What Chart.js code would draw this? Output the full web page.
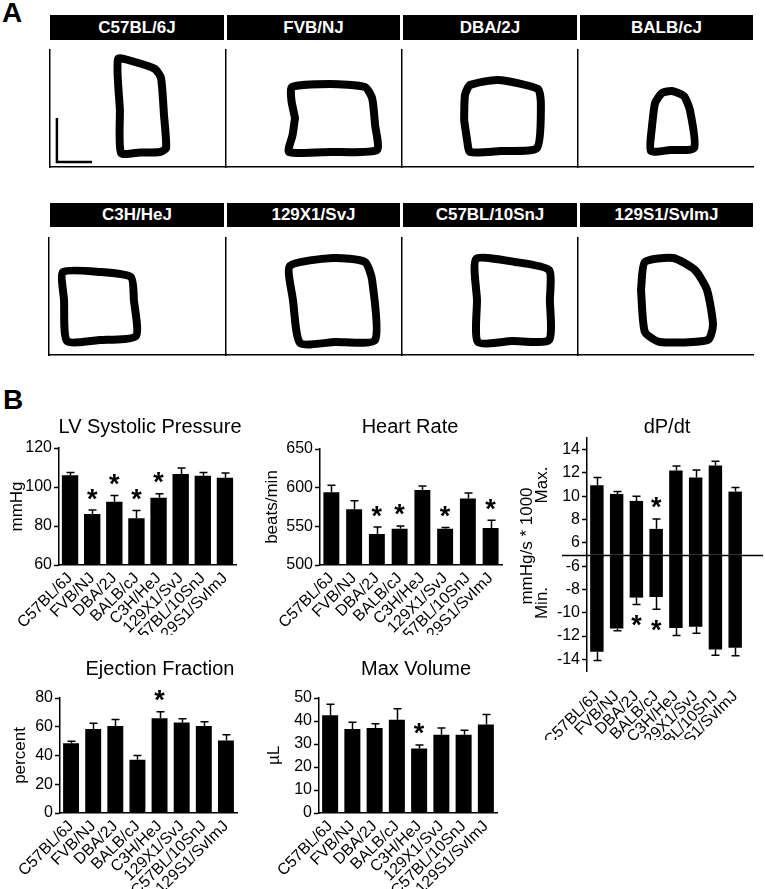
<!DOCTYPE html>
<html><head><meta charset="utf-8">
<script src="https://cdn.jsdelivr.net/npm/chart.js@4.4.0/dist/chart.umd.min.js"></script>
<style>
html,body{margin:0;padding:0;background:#fff;}
body{width:765px;height:889px;position:relative;overflow:hidden;font-family:'Liberation Sans',Arial,sans-serif;}
.hdr{position:absolute;background:#000;color:#fff;font-weight:bold;font-size:17px;display:flex;align-items:center;justify-content:center;white-space:nowrap;}
.plab{position:absolute;font-weight:bold;font-size:28px;line-height:28px;}
canvas{position:absolute;}
</style></head><body>
<div class="plab" style="left:2px;top:-1px">A</div>
<div class="plab" style="left:3px;top:386px">B</div>
<div id="root"></div>
<script>
// ---------------- DATA ----------------
const strains = ['C57BL/6J','FVB/NJ','DBA/2J','BALB/cJ','C3H/HeJ','129X1/SvJ','C57BL/10SnJ','129S1/SvImJ'];

// Panel A: representative PV loops, points as [volume (µL), pressure (mmHg)]
const pvC57BL6J    = [[23.3,57],[22.7,108],[28.3,105],[35,98],[37,89],[38,52],[38.7,19],[36.7,15],[30,14.5],[23.7,14],[23.3,57]];
const pvFVBNJ      = [[23,49],[21.8,67],[22,80],[34.7,83],[46.3,80],[48.7,69],[49.7,42],[50.3,17],[34.7,15],[21,15],[22.2,32],[23,49]];
const pvDBA2J      = [[20.7,47],[21,72],[22.7,82],[32,87],[45.3,78],[46.3,62],[45,19],[32.7,16],[22.7,15],[21.7,27],[20.7,47]];
const pvBALBcJ     = [[24.7,42],[25.7,64],[28,74],[31.3,76],[35.3,71],[37.3,57],[38.7,19],[30.7,17],[24.3,16],[24.7,42]];
const pvC3HHeJ     = [[5,55],[4.7,83],[17,83],[27.3,78],[28.3,55],[29,19],[17,15],[6,14],[5,55]];
const pv129X1SvJ   = [[22.3,55],[21.3,89],[35.7,97],[46.3,93],[48.7,75],[49.7,15],[36.3,13],[24.7,12],[22.3,55]];
const pvC57BL10SnJ = [[25,55],[24.7,96],[37.7,93],[49,85],[49.3,55],[49,15],[36.7,14],[25.3,13],[25,55]];
const pv129S1SvImJ = [[21,65],[22.3,93],[31.7,97],[39,85],[43,65],[45,30],[43.3,15],[27.3,13],[22.3,23],[21,65]];
const scaleBar     = [[2.3,49],[2.3,5],[14,5]];

// Panel B
const lvsp      = [106, 86.2, 92.5, 84, 94.5, 106.7, 105.8, 104.8];
const lvspErr   = [1.5, 2, 3.2, 4, 2, 3, 1.6, 2.4];
const lvspStar  = [0,1,1,1,1,0,0,0];
const lvspTicks = [60, 80, 100, 120];

const hr      = [594, 572, 540, 547, 597, 547, 586, 548];
const hrErr   = [9, 11, 9, 3.5, 5, 1.5, 7, 10];
const hrStar  = [0,0,1,1,0,1,0,1];
const hrTicks = [500, 550, 600, 650];

const dpdtMax      = [10.95, 10.2, 9.6, 7.2, 12.2, 11.6, 12.65, 10.4];
const dpdtMaxErr   = [0.65, 0.2, 0.4, 0.85, 0.4, 0.65, 0.35, 0.35];
const dpdtMaxStar  = [0,0,0,1,0,0,0,0];
const dpdtMin      = [-13.35, -11.35, -8.7, -8.65, -11.3, -11.2, -13.15, -13.0];
const dpdtMinErr   = [0.75, 0.2, 0.6, 1.05, 0.65, 0.55, 0.5, 0.7];
const dpdtMinStar  = [0,0,1,1,0,0,0,0];
const dpdtTicks    = [-14, -12, -10, -8, -6, 6, 8, 10, 12, 14];
const dpdtBreak    = 5;   // axis is broken between -5 and 5

const ef      = [48.5, 58.5, 60.5, 37, 66, 63, 60.5, 50.5];
const efErr   = [1.5, 4, 4.5, 3, 4.5, 2.5, 3, 4];
const efStar  = [0,0,0,0,1,0,0,0];
const efTicks = [0, 20, 40, 60, 80];

const mv      = [42.5, 36.5, 37, 40.5, 28, 34, 34, 38.5];
const mvErr   = [4.8, 3, 1.8, 4.8, 1.6, 3, 2, 4.3];
const mvStar  = [0,0,0,0,1,0,0,0];
const mvTicks = [0, 10, 20, 30, 40, 50];

// ---------------- RENDER ----------------
const FONT = "'Liberation Sans', Arial, sans-serif";
Chart.defaults.font.family = FONT;
Chart.defaults.color = '#000';
const root = document.getElementById('root');

function addCanvas(id, left, top, w, h) {
  const c = document.createElement('canvas');
  c.id = id; c.width = w; c.height = h;
  c.style.left = left + 'px'; c.style.top = top + 'px';
  c.style.width = w + 'px'; c.style.height = h + 'px';
  root.appendChild(c);
  return c;
}
function addHeader(text, left, top, w, h) {
  const d = document.createElement('div');
  d.className = 'hdr'; d.textContent = text;
  d.style.left = left + 'px'; d.style.top = top + 'px';
  d.style.width = w + 'px'; d.style.height = h + 'px';
  root.appendChild(d);
}

// ---- Panel A ----
const loops = [pvC57BL6J, pvFVBNJ, pvDBA2J, pvBALBcJ, pvC3HHeJ, pv129X1SvJ, pvC57BL10SnJ, pv129S1SvImJ];
const rowLayout = [
  {hdrTop: 15, hdrH: 25, plotTop: 49, lefts: [50, 226, 402, 578]},
  {hdrTop: 203, hdrH: 24, plotTop: 237, lefts: [49, 226, 402, 578]}
];
const hdrX = [50, 227, 403, 580], hdrW = [174, 173, 174, 173];
const toPts = a => a.map(p => ({x: p[0], y: p[1]}));

loops.forEach((loop, i) => {
  const row = rowLayout[Math.floor(i / 4)], col = i % 4;
  addHeader(strains[i], hdrX[col], row.hdrTop, hdrW[col], row.hdrH);
  const L = row.lefts[col];
  const c = addCanvas('pv' + i, L - 2, row.plotTop, 178, 120);
  const ds = [{data: toPts(loop), showLine: true, borderColor: '#000', borderWidth: 8, pointRadius: 0,
               tension: 0.2, borderJoinStyle: 'round', borderCapStyle: 'round', fill: false}];
  if (i === 0) ds.push({data: toPts(scaleBar), showLine: true, borderColor: '#000', borderWidth: 2.5,
                        pointRadius: 0, tension: 0, fill: false});
  new Chart(c, {
    type: 'scatter',
    data: {datasets: ds},
    options: {
      responsive: false, animation: false, events: [],
      layout: {padding: {left: 2, top: 0, right: 0, bottom: 2}},
      plugins: {legend: {display: false}, tooltip: {enabled: false}},
      scales: {
        x: {type: 'linear', min: 0, max: 58.67, ticks: {display: false},
            grid: {display: true, drawOnChartArea: false, drawTicks: false},
            border: {display: true, color: '#000', width: 1.5}, afterFit: s => { s.height = 0; }},
        y: {type: 'linear', min: 0, max: 118, ticks: {display: false},
            grid: {display: true, drawOnChartArea: false, drawTicks: false},
            border: {display: true, color: '#000', width: 1.5}, afterFit: s => { s.width = 0; }}
      }
    }
  });
});

// ---- Panel B ----
const decor = {
  id: 'decor',
  afterDatasetsDraw(chart, args, opts) {
    const ctx = chart.ctx, ys = chart.scales.y;
    ctx.save();
    if (opts.zeroLine) {
      const y0 = Math.round(ys.getPixelForValue(0)) + 0.5;
      ctx.strokeStyle = '#000'; ctx.lineWidth = 1.5;
      ctx.beginPath(); ctx.moveTo(opts.zeroLine.x1, y0); ctx.lineTo(opts.zeroLine.x2, y0); ctx.stroke();
    }
    chart.data.datasets.forEach((ds, di) => {
      if (!ds.errors) return;
      const meta = chart.getDatasetMeta(di);
      meta.data.forEach((bar, i) => {
        const v = ds.data[i], dir = v >= 0 ? 1 : -1;
        const yEnd = ys.getPixelForValue(v + dir * ds.errors[i]);
        const x = Math.round(bar.x) + 0.5;
        ctx.strokeStyle = '#000'; ctx.lineWidth = 1.5;
        ctx.beginPath();
        ctx.moveTo(x, bar.y); ctx.lineTo(x, yEnd);
        ctx.moveTo(x - 4, yEnd); ctx.lineTo(x + 4, yEnd);
        ctx.stroke();
        if (ds.stars && ds.stars[i]) {
          ctx.font = 'bold 27px ' + FONT;
          ctx.textAlign = 'center'; ctx.textBaseline = 'alphabetic'; ctx.fillStyle = '#000';
          const m = ctx.measureText('*');
          const cy = yEnd - dir * 16;
          const base = cy + (m.actualBoundingBoxAscent - m.actualBoundingBoxDescent) / 2;
          ctx.fillText('*', bar.x, base);
        }
      });
    });
    if (opts.title) {
      ctx.font = '20px ' + FONT; ctx.fillStyle = '#000';
      ctx.textAlign = 'center'; ctx.textBaseline = 'middle';
      ctx.fillText(opts.title.text, opts.title.x, opts.title.y);
    }
    (opts.texts || []).forEach(t => {
      ctx.save();
      ctx.translate(t.x, t.y); ctx.rotate(-Math.PI / 2);
      ctx.font = '17px ' + FONT; ctx.fillStyle = '#000';
      ctx.textAlign = 'center'; ctx.textBaseline = 'middle';
      ctx.fillText(t.text, 0, 0);
      ctx.restore();
    });
    ctx.restore();
  }
};

function makeBar(id, pos, o) {
  const c = addCanvas(id, pos.left, pos.top, pos.w, pos.h);
  return new Chart(c, {
    type: 'bar',
    data: {labels: strains, datasets: o.datasets.map(d => ({
      data: d.data, errors: d.errors, stars: d.stars, backgroundColor: '#000', borderWidth: 0,
      barPercentage: o.barPct, categoryPercentage: 1}))},
    options: {
      responsive: false, animation: false, events: [],
      layout: {padding: {top: o.padTop, right: o.padRight, left: 0, bottom: 0}},
      plugins: {legend: {display: false}, tooltip: {enabled: false},
                decor: {title: o.title, zeroLine: o.zeroLine, texts: o.texts}},
      scales: {
        x: {stacked: !!o.stacked,
            grid: {display: true, drawOnChartArea: false, drawTicks: false},
            border: {display: o.xBorder !== false, color: '#000', width: 1.5},
            ticks: {autoSkip: false, minRotation: 45, maxRotation: 45, padding: o.xPad,
                    font: {size: 16}, color: '#000'},
            afterFit: s => { s.height = o.xHeight; }},
        y: {stacked: !!o.stacked, min: o.yMin, max: o.yMax,
            afterBuildTicks: s => { s.ticks = o.yTicks.map(v => ({value: v})); },
            ticks: {font: {size: 16}, color: '#000', padding: 2, callback: o.yLabel || (v => v)},
            grid: {display: true, drawOnChartArea: false, drawTicks: true, tickLength: 5,
                   tickColor: '#000', tickWidth: 1.5},
            border: {display: true, color: '#000', width: 1.5},
            title: {display: !!o.yTitle, text: o.yTitle, font: {size: 17}, color: '#000',
                    padding: {top: o.yTitlePad || 0, bottom: 0}},
            afterFit: s => { s.width = o.yWidth; }}
      }
    },
    plugins: [decor]
  });
}

makeBar('lvsp', {left: 0, top: 405, w: 245, h: 230}, {
  datasets: [{data: lvsp, errors: lvspErr, stars: lvspStar}],
  barPct: 0.74, padTop: 43, padRight: 9, xHeight: 70, xPad: 4, yWidth: 59,
  yMin: 60, yMax: 120, yTicks: lvspTicks, yTitle: 'mmHg', yTitlePad: 7,
  title: {text: 'LV Systolic Pressure', x: 150, y: 22}
});
makeBar('hr', {left: 250, top: 405, w: 260, h: 230}, {
  datasets: [{data: hr, errors: hrErr, stars: hrStar}],
  barPct: 0.7, padTop: 44, padRight: 8, xHeight: 70, xPad: 4, yWidth: 70,
  yMin: 500, yMax: 650, yTicks: hrTicks, yTitle: 'beats/min', yTitlePad: 12,
  title: {text: 'Heart Rate', x: 160, y: 22}
});
makeBar('dpdt', {left: 510, top: 405, w: 255, h: 335}, {
  datasets: [
    {data: dpdtMax.map(v => v - dpdtBreak), errors: dpdtMaxErr, stars: dpdtMaxStar},
    {data: dpdtMin.map(v => v + dpdtBreak), errors: dpdtMinErr, stars: dpdtMinStar}
  ],
  stacked: true, barPct: 0.68, padTop: 33, padRight: 4, xHeight: 69, xPad: 16, yWidth: 77,
  xBorder: false, yMin: -10, yMax: 10,
  yTicks: dpdtTicks.map(v => v > 0 ? v - dpdtBreak : v + dpdtBreak),
  yLabel: v => v > 0 ? v + dpdtBreak : v - dpdtBreak,
  zeroLine: {x1: 52, x2: 253},
  texts: [{text: 'mmHg/s * 1000', x: 17, y: 141}, {text: 'Max.', x: 32, y: 80}, {text: 'Min.', x: 32, y: 198}],
  title: {text: 'dP/dt', x: 157, y: 22}
});
makeBar('ef', {left: 0, top: 655, w: 245, h: 234}, {
  datasets: [{data: ef, errors: efErr, stars: efStar}],
  barPct: 0.72, padTop: 43, padRight: 8, xHeight: 76, xPad: 4, yWidth: 60,
  yMin: 0, yMax: 80, yTicks: efTicks, yTitle: 'percent', yTitlePad: 10,
  title: {text: 'Ejection Fraction', x: 160, y: 14}
});
makeBar('mv', {left: 250, top: 655, w: 255, h: 234}, {
  datasets: [{data: mv, errors: mvErr, stars: mvStar}],
  barPct: 0.72, padTop: 43, padRight: 8, xHeight: 76, xPad: 4, yWidth: 69,
  yMin: 0, yMax: 50, yTicks: mvTicks, yTitle: 'µL', yTitlePad: 14,
  title: {text: 'Max Volume', x: 166, y: 14}
});
</script>
</body></html>
